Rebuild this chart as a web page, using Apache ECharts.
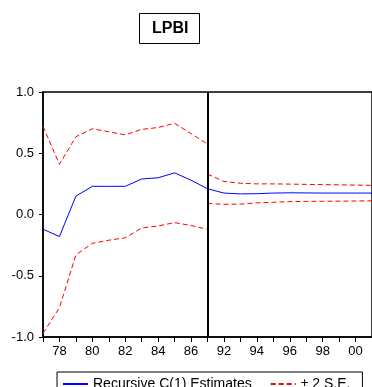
<!DOCTYPE html>
<html>
<head>
<meta charset="utf-8">
<script src="https://cdn.jsdelivr.net/npm/echarts@6/dist/echarts.min.js"></script>
<style>
  html, body { margin: 0; padding: 0; background: #fff; }
  #chart { width: 372px; height: 387px; }
</style>
</head>
<body>
<div id="chart"></div>
<script>
// 递归系数图 LPBI
const leftYears = ['77', '78', '79', '80', '81', '82', '83', '84', '85', '86', '87'];
const rightYears = ['91', '92', '93', '94', '95', '96', '97', '98', '99', '00', '01'];

const leftEst = [-0.12, -0.18, 0.15, 0.23, 0.23, 0.23, 0.29, 0.30, 0.34, 0.28, 0.21];
const leftUpper = [0.72, 0.41, 0.635, 0.70, 0.675, 0.65, 0.695, 0.71, 0.745, 0.66, 0.575];
const leftLower = [-0.97, -0.76, -0.33, -0.235, -0.21, -0.19, -0.11, -0.094, -0.066, -0.09, -0.12];

const rightEst = [0.21, 0.175, 0.168, 0.17, 0.175, 0.177, 0.176, 0.175, 0.175, 0.175, 0.175];
const rightUpper = [0.33, 0.27, 0.255, 0.25, 0.25, 0.248, 0.246, 0.244, 0.242, 0.24, 0.238];
const rightLower = [0.09, 0.083, 0.085, 0.095, 0.10, 0.105, 0.107, 0.108, 0.109, 0.11, 0.112];

const yTicks = [-1.0, -0.5, 0.0, 0.5, 1.0];

// 87 与 91 共用同一位置
const categories = leftYears.concat(rightYears.slice(1));
const nRight = rightYears.length - 1;
const padLeft = (arr) => arr.concat(new Array(nRight).fill(null));
const padRight = (arr) => new Array(leftYears.length - 1).fill(null).concat(arr);

const EST = 'Recursive C(1) Estimates';
const SE = '± 2 S.E.';
const font = 'Liberation Sans, Arial, sans-serif';

const estLine = { color: '#0000ff', width: 1 };
const seLine = { color: '#ff0000', width: 1, type: [5, 3] };

function mkSeries(name, data, lineStyle) {
  return {
    name: name,
    type: 'line',
    data: data,
    symbol: 'none',
    connectNulls: false,
    lineStyle: lineStyle,
    itemStyle: { color: lineStyle.color },
    animation: false,
    z: 3
  };
}

const chart = echarts.init(document.getElementById('chart'));
const series = [
  mkSeries(EST, padLeft(leftEst), estLine),
  mkSeries(SE, padLeft(leftUpper), seLine),
  mkSeries(SE, padLeft(leftLower), seLine),
  mkSeries(EST, padRight(rightEst), estLine),
  mkSeries(SE, padRight(rightUpper), seLine),
  mkSeries(SE, padRight(rightLower), seLine)
];
series[0].markLine = {
  silent: true,
  symbol: 'none',
  label: { show: false },
  lineStyle: { color: '#000', width: 2, type: 'solid' },
  data: [{ xAxis: leftYears.length - 1 }],
  animation: false
};

chart.setOption({
  backgroundColor: '#fff',
  animation: false,
  title: {
    text: 'LPBI',
    left: 139,
    top: 13,
    borderColor: '#000',
    borderWidth: 1,
    padding: [8, 11, 7, 13],
    textStyle: { fontFamily: font, fontSize: 16, fontWeight: 'bold', color: '#000' }
  },
  legend: {
    left: 57,
    top: 372,
    data: [EST, SE],
    borderColor: '#000',
    borderWidth: 1,
    borderRadius: 0,
    padding: [5, 12, 6, 5],
    itemWidth: 25,
    itemHeight: 10,
    itemGap: 18,
    itemStyle: { opacity: 0 },
    textStyle: { fontFamily: font, fontSize: 14, color: '#000', padding: [0, 0, 0, 0] }
  },
  grid: {
    left: 43,
    right: -2,
    top: 92,
    bottom: 50,
    show: true,
    borderColor: '#000',
    borderWidth: 1.5,
    backgroundColor: 'transparent'
  },
  xAxis: {
    type: 'category',
    data: categories,
    boundaryGap: false,
    axisLine: { onZero: false, lineStyle: { color: '#000', width: 1.5 } },
    axisTick: { interval: 0, length: 5, lineStyle: { color: '#000' } },
    axisLabel: {
      interval: (i) => i % 2 === 1,
      margin: 8,
      color: '#000',
      fontFamily: font,
      fontSize: 13
    },
    splitLine: { show: false }
  },
  yAxis: {
    type: 'value',
    min: yTicks[0],
    max: yTicks[yTicks.length - 1],
    interval: 0.5,
    axisLine: { show: true, onZero: false, lineStyle: { color: '#000', width: 1.5 } },
    axisTick: { show: true, length: 4, lineStyle: { color: '#000' } },
    axisLabel: {
      margin: 9,
      color: '#000',
      fontFamily: font,
      fontSize: 13,
      formatter: (v) => v.toFixed(1)
    },
    splitLine: { show: false }
  },
  series: series
});
</script>
</body>
</html>
